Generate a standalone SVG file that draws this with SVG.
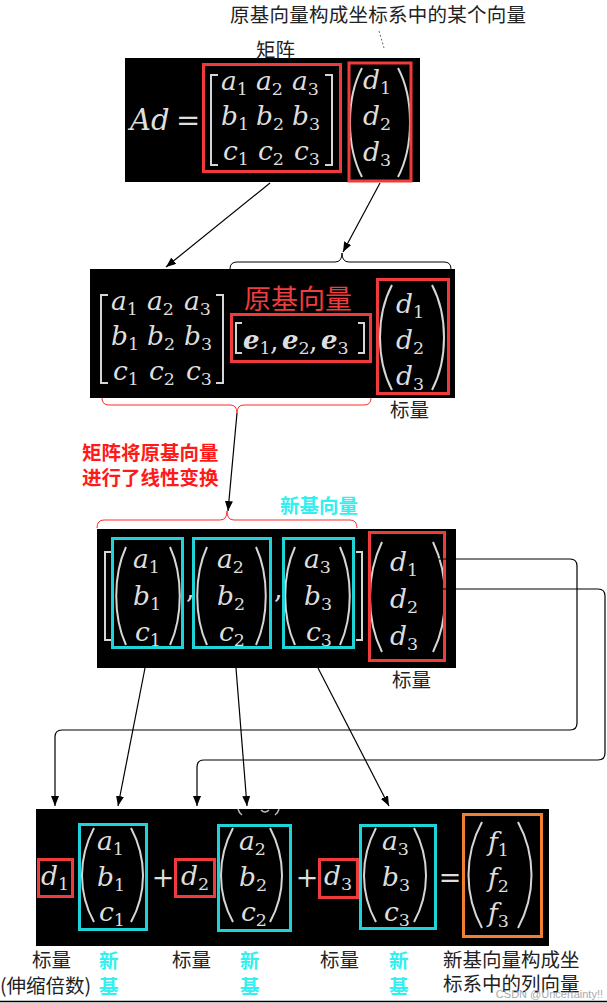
<svg xmlns="http://www.w3.org/2000/svg" width="607" height="1003" viewBox="0 0 607 1003">
<defs>
<marker id="ah" markerWidth="10" markerHeight="8" refX="10" refY="4" orient="auto" markerUnits="userSpaceOnUse">
<path d="M0,0 L10,4 L0,8 z" fill="#000"/>
</marker>
<style>
.bg{fill:#000}
.m{font-family:"DejaVu Serif","Liberation Serif",serif;font-style:italic;font-size:26.5px;fill:#dedede}
.mb{font-family:"DejaVu Serif","Liberation Serif",serif;font-style:italic;font-weight:bold;font-size:26px;fill:#dedede}
.u{font-family:"DejaVu Serif","Liberation Serif",serif;font-size:27px;fill:#dedede}
.s{font-style:normal;font-weight:normal;font-size:17.5px}
.br{fill:none;stroke:#d6d6d6;stroke-width:2}
.rb{fill:none;stroke:#ef3b3b;stroke-width:3}
.cb{fill:none;stroke:#1fd3d8;stroke-width:3}
.ob{fill:none;stroke:#f08030;stroke-width:3}
.t{font-family:"Noto Sans CJK SC","Noto Sans",sans-serif;font-size:19.5px;fill:#222}
.rt{font-family:"Noto Sans CJK SC","Noto Sans",sans-serif;font-size:19.5px;font-weight:bold;fill:#ff1a1a}
.ct{font-family:"Noto Sans CJK SC","Noto Sans",sans-serif;font-size:19.5px;font-weight:bold;fill:#33f0f0}
.ln{fill:none;stroke:#000;stroke-width:1.2}
</style>
</defs>

<!-- Block 1 -->
<g id="block1">
<rect class="bg" x="125" y="58" width="295" height="124"/>
<text class="m" x="130" y="130" style="font-size:29px">Ad</text>
<text class="u" x="176" y="130" style="font-size:29px">=</text>
<path class="br" d="M218,75 H211 V165 H218 M325,75 H332 V165 H325"/>
<text class="m" x="221" y="90">a<tspan class="s" dy="5">1</tspan></text>
<text class="m" x="256" y="90">a<tspan class="s" dy="5">2</tspan></text>
<text class="m" x="292" y="90">a<tspan class="s" dy="5">3</tspan></text>
<text class="m" x="221" y="125">b<tspan class="s" dy="5">1</tspan></text>
<text class="m" x="256" y="125">b<tspan class="s" dy="5">2</tspan></text>
<text class="m" x="292" y="125">b<tspan class="s" dy="5">3</tspan></text>
<text class="m" x="223" y="160">c<tspan class="s" dy="5">1</tspan></text>
<text class="m" x="258" y="160">c<tspan class="s" dy="5">2</tspan></text>
<text class="m" x="294" y="160">c<tspan class="s" dy="5">3</tspan></text>
<path class="br" d="M362,68 C346,98 346,146 362,177 M398,68 C414,98 414,146 398,177"/>
<text class="m" x="363" y="89">d<tspan class="s" dy="5">1</tspan></text>
<text class="m" x="363" y="125">d<tspan class="s" dy="5">2</tspan></text>
<text class="m" x="363" y="161">d<tspan class="s" dy="5">3</tspan></text>
<rect class="rb" x="203.5" y="64.5" width="137" height="107"/>
<rect class="rb" x="349" y="63" width="62" height="118"/>
</g>

<!-- Block 2 -->
<g id="block2">
<rect class="bg" x="90" y="269" width="365" height="129"/>
<path class="br" d="M108,295 H101 V383 H108 M216,295 H223 V383 H216"/>
<text class="m" x="111" y="310">a<tspan class="s" dy="5">1</tspan></text>
<text class="m" x="147" y="310">a<tspan class="s" dy="5">2</tspan></text>
<text class="m" x="184" y="310">a<tspan class="s" dy="5">3</tspan></text>
<text class="m" x="111" y="345">b<tspan class="s" dy="5">1</tspan></text>
<text class="m" x="147" y="345">b<tspan class="s" dy="5">2</tspan></text>
<text class="m" x="184" y="345">b<tspan class="s" dy="5">3</tspan></text>
<text class="m" x="113" y="380">c<tspan class="s" dy="5">1</tspan></text>
<text class="m" x="149" y="380">c<tspan class="s" dy="5">2</tspan></text>
<text class="m" x="186" y="380">c<tspan class="s" dy="5">3</tspan></text>
<text x="298" y="309" text-anchor="middle" style="font-family:'Noto Sans CJK SC','Noto Sans',sans-serif;font-size:27px;fill:#f03c3c">原基向量</text>
<path class="br" d="M242,323 H236 V353 H242 M358,323 H364 V353 H358"/>
<text class="mb" x="243" y="349">e<tspan class="s" dy="5">1</tspan></text>
<text class="u" x="270" y="350">,</text>
<text class="mb" x="282" y="349">e<tspan class="s" dy="5">2</tspan></text>
<text class="u" x="309" y="350">,</text>
<text class="mb" x="321" y="349">e<tspan class="s" dy="5">3</tspan></text>
<rect class="rb" x="231.5" y="314.5" width="139" height="47"/>
<path class="br" d="M392,285 C376,315 376,360 392,390 M432,285 C448,315 448,360 432,390"/>
<text class="m" x="396" y="313">d<tspan class="s" dy="5">1</tspan></text>
<text class="m" x="396" y="349">d<tspan class="s" dy="5">2</tspan></text>
<text class="m" x="396" y="385">d<tspan class="s" dy="5">3</tspan></text>
<rect class="rb" x="377.5" y="279.5" width="71" height="114"/>
</g>

<!-- Block 3 -->
<g id="block3">
<rect class="bg" x="97" y="529" width="359" height="139"/>
<path class="br" d="M111,552 H105 V640 H111 M356,552 H362 V640 H356"/>
<path class="br" d="M126,547 C113,575 113,617 126,645 M170,547 C183,575 183,617 170,645"/>
<text class="m" x="133" y="568">a<tspan class="s" dy="5">1</tspan></text>
<text class="m" x="133" y="605">b<tspan class="s" dy="5">1</tspan></text>
<text class="m" x="135" y="641">c<tspan class="s" dy="5">1</tspan></text>
<text class="u" x="186" y="598">,</text>
<path class="br" d="M207,547 C194,575 194,617 207,645 M256,547 C269,575 269,617 256,645"/>
<text class="m" x="217" y="568">a<tspan class="s" dy="5">2</tspan></text>
<text class="m" x="217" y="605">b<tspan class="s" dy="5">2</tspan></text>
<text class="m" x="219" y="641">c<tspan class="s" dy="5">2</tspan></text>
<text class="u" x="274" y="598">,</text>
<path class="br" d="M295,547 C282,575 282,617 295,645 M340,547 C353,575 353,617 340,645"/>
<text class="m" x="304" y="568">a<tspan class="s" dy="5">3</tspan></text>
<text class="m" x="304" y="605">b<tspan class="s" dy="5">3</tspan></text>
<text class="m" x="306" y="641">c<tspan class="s" dy="5">3</tspan></text>
<rect class="cb" x="112.5" y="538.5" width="70" height="109"/>
<rect class="cb" x="193.5" y="538.5" width="77" height="109"/>
<rect class="cb" x="283.5" y="538.5" width="70" height="109"/>
<path class="br" d="M382,542 C366,575 366,620 382,652 M433,542 C449,575 449,620 433,652"/>
<text class="m" x="390" y="571">d<tspan class="s" dy="5">1</tspan></text>
<text class="m" x="390" y="608">d<tspan class="s" dy="5">2</tspan></text>
<text class="m" x="390" y="645">d<tspan class="s" dy="5">3</tspan></text>
<rect class="rb" x="369.5" y="532.5" width="75" height="128"/>
</g>

<!-- Block 4 -->
<g id="block4">
<rect class="bg" x="36" y="809" width="513" height="137"/>
<path d="M238,809 Q239,813 242,815 M279,809 Q278,813 275,815 M261,810 Q265,814 269,810" fill="none" stroke="#bbb" stroke-width="1.5"/>
<text class="m" x="41" y="885">d<tspan class="s" dy="5">1</tspan></text>
<rect class="rb" x="38.5" y="859.5" width="34" height="37"/>
<path class="br" d="M94,828 C78,858 78,893 94,922 M131,828 C147,858 147,893 131,922"/>
<text class="m" x="97" y="850">a<tspan class="s" dy="5">1</tspan></text>
<text class="m" x="97" y="886">b<tspan class="s" dy="5">1</tspan></text>
<text class="m" x="99" y="921">c<tspan class="s" dy="5">1</tspan></text>
<rect class="cb" x="79.5" y="824.5" width="67" height="105"/>
<text class="u" x="163" y="887" text-anchor="middle">+</text>
<text class="m" x="181" y="885">d<tspan class="s" dy="5">2</tspan></text>
<rect class="rb" x="175.5" y="859.5" width="39" height="37"/>
<path class="br" d="M233,828 C217,858 217,893 233,922 M270,828 C286,858 286,893 270,922"/>
<text class="m" x="239" y="850">a<tspan class="s" dy="5">2</tspan></text>
<text class="m" x="239" y="886">b<tspan class="s" dy="5">2</tspan></text>
<text class="m" x="241" y="921">c<tspan class="s" dy="5">2</tspan></text>
<rect class="cb" x="218.5" y="825.5" width="72" height="105"/>
<text class="u" x="307" y="887" text-anchor="middle">+</text>
<text class="m" x="324" y="885">d<tspan class="s" dy="5">3</tspan></text>
<rect class="rb" x="319.5" y="859.5" width="38" height="38"/>
<path class="br" d="M376,828 C360,858 360,893 376,922 M414,828 C430,858 430,893 414,922"/>
<text class="m" x="382" y="850">a<tspan class="s" dy="5">3</tspan></text>
<text class="m" x="382" y="886">b<tspan class="s" dy="5">3</tspan></text>
<text class="m" x="384" y="921">c<tspan class="s" dy="5">3</tspan></text>
<rect class="cb" x="360.5" y="825.5" width="75" height="103"/>
<text class="u" x="450" y="887" text-anchor="middle">=</text>
<path class="br" d="M482,822 C464,855 464,895 482,928 M518,822 C536,855 536,895 518,928"/>
<text class="m" x="488" y="851">f<tspan class="s" dy="5">1</tspan></text>
<text class="m" x="488" y="887">f<tspan class="s" dy="5">2</tspan></text>
<text class="m" x="488" y="922">f<tspan class="s" dy="5">3</tspan></text>
<rect class="ob" x="463.5" y="814.5" width="78" height="122"/>
</g>

<!-- Labels -->
<g id="labels">
<text class="t" x="230" y="22" textLength="296">原基向量构成坐标系中的某个向量</text>
<text class="t" x="256" y="57">矩阵</text>
<text class="t" x="390" y="417">标量</text>
<text class="rt" x="82" y="460">矩阵将原基向量</text>
<text class="rt" x="82" y="485">进行了线性变换</text>
<text class="ct" x="280" y="513">新基向量</text>
<text class="t" x="392" y="687">标量</text>
<text class="t" x="32" y="967">标量</text>
<text class="t" x="0" y="993">(伸缩倍数)</text>
<text class="ct" x="99" y="968">新</text>
<text class="ct" x="99" y="994">基</text>
<text class="t" x="172" y="967">标量</text>
<text class="ct" x="240" y="968">新</text>
<text class="ct" x="240" y="994">基</text>
<text class="t" x="320" y="967">标量</text>
<text class="ct" x="389" y="968">新</text>
<text class="ct" x="389" y="994">基</text>
<text class="t" x="443" y="967">新基向量构成坐</text>
<text class="t" x="443" y="991">标系中的列向量</text>
<text x="603" y="998" text-anchor="end" style="font-family:'Liberation Sans',sans-serif;font-size:11px;fill:#9a9a9a;opacity:0.85">CSDN @Uncertainty!!</text>
</g>

<!-- Connectors -->
<g id="connectors">
<line x1="379" y1="31" x2="384" y2="48" stroke="#666" stroke-width="1" stroke-dasharray="2,2"/>
<line class="ln" x1="270" y1="183" x2="166" y2="267" marker-end="url(#ah)"/>
<line class="ln" x1="380" y1="183" x2="343" y2="252" marker-end="url(#ah)"/>
<path d="M230,269 Q230,262 237,262 H335 Q342,262 342,253 Q342,262 349,262 H444 Q451,262 451,269" fill="none" stroke="#000" stroke-width="1"/>
<path d="M102,398 Q102,405 109,405 H230 Q237,405 237,413 Q237,405 244,405 H364 Q371,405 371,398" fill="none" stroke="#ff2a2a" stroke-width="1"/>
<line class="ln" x1="237" y1="413" x2="228" y2="511" marker-end="url(#ah)"/>
<path d="M97,528 Q97,520 104,520 H220 Q227,520 227,511 Q227,520 234,520 H350 Q357,520 357,528" fill="none" stroke="#ff2a2a" stroke-width="1"/>
<line class="ln" x1="145" y1="668" x2="118" y2="806" marker-end="url(#ah)"/>
<line class="ln" x1="236" y1="668" x2="247" y2="806" marker-end="url(#ah)"/>
<line class="ln" x1="318" y1="668" x2="389" y2="806" marker-end="url(#ah)"/>
<path class="ln" d="M433,559 H570 Q577,559 577,566 V723 Q577,730 570,730 H62 Q55,730 55,737 V806" marker-end="url(#ah)"/>
<path class="ln" d="M439,589 H598 Q605,589 605,596 V753 Q605,760 598,760 H204 Q197,760 197,767 V806" marker-end="url(#ah)"/>
<line x1="0" y1="1001.5" x2="607" y2="1001.5" stroke="#000" stroke-width="1.5"/>
</g>
</svg>
